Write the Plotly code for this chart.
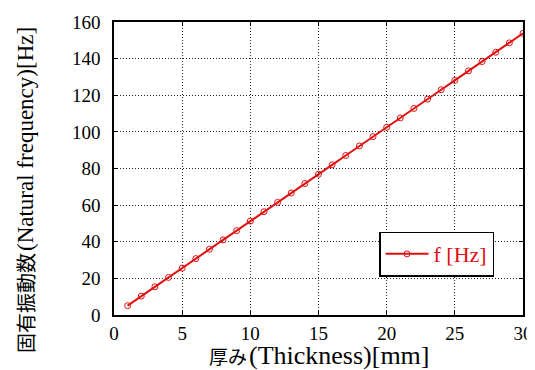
import plotly.graph_objects as go

thickness_mm = [1, 2, 3, 4, 5, 6, 7, 8, 9, 10, 11, 12, 13, 14, 15,
                16, 17, 18, 19, 20, 21, 22, 23, 24, 25, 26, 27, 28, 29, 30]
freq_hz = [5.1, 10.3, 15.4, 20.5, 25.6, 30.8, 35.9, 41.0, 46.1, 51.3,
           56.4, 61.5, 66.6, 71.8, 76.9, 82.0, 87.1, 92.3, 97.4, 102.5,
           107.6, 112.8, 117.9, 123.0, 128.1, 133.3, 138.4, 143.5, 148.6, 153.8]
x_ticks = [0, 5, 10, 15, 20, 25, 30]
y_ticks = [0, 20, 40, 60, 80, 100, 120, 140, 160]
x_title_jp, x_title_en = "厚み", "(Thickness)[mm]"
y_title_jp, y_title_en = "固有振動数", "(Natural frequency)[Hz]"

FONT = "Liberation Serif"
CJK = "Noto Sans CJK JP"
RED = "#e01010"

fig = go.Figure()
fig.add_trace(go.Scatter(
    x=thickness_mm, y=freq_hz, mode="lines+markers", name="f [Hz]",
    line=dict(color=RED, width=2),
    marker=dict(symbol="circle-open", size=6, color=RED, line=dict(width=1, color=RED)),
))

axis_common = dict(
    showline=True, linecolor="black", linewidth=1.5, mirror="ticks",
    ticks="inside", ticklen=4, tickcolor="black",
    showgrid=True, gridcolor="#222222", griddash="1px,2px", gridwidth=1,
    zeroline=False, automargin=False,
    tickfont=dict(family=FONT, size=19, color="black"),
)

fig.update_layout(
    width=527, height=362,
    margin=dict(l=106, r=12, t=14, b=55),
    paper_bgcolor="white", plot_bgcolor="white",
    font=dict(family=FONT),
    showlegend=True,
    legend=dict(
        x=0.648, y=0.208, xanchor="left", yanchor="middle",
        bordercolor="black", borderwidth=1.5, bgcolor="white",
        itemwidth=43,
        font=dict(family=FONT, size=22, color=RED),
    ),
    xaxis=dict(range=[0, 30], tickvals=x_ticks, ticklabelstandoff=0, **axis_common),
    yaxis=dict(range=[0, 160], tickvals=y_ticks, ticklabelstandoff=8, **axis_common),
)

# x-axis title: Japanese part and Latin part as two adjoining texts
fig.add_annotation(
    text=x_title_jp, xref="paper", yref="paper", x=0.327, y=0,
    xanchor="right", yanchor="middle", yshift=-40, borderpad=0, showarrow=False,
    font=dict(family=CJK, size=19, color="black"),
)
fig.add_annotation(
    text=x_title_en, xref="paper", yref="paper", x=0.327, y=0,
    xanchor="left", yanchor="middle", yshift=-40, borderpad=0, showarrow=False,
    font=dict(family=FONT, size=26, color="black"),
)

# y-axis title: rotated, Japanese part below, Latin part above
fig.add_annotation(
    text=y_title_jp, xref="paper", yref="paper", x=0, y=0.215,
    xanchor="center", yanchor="top", xshift=-89, textangle=-90, borderpad=0, showarrow=False,
    font=dict(family=CJK, size=20, color="black"),
)
fig.add_annotation(
    text=y_title_en, xref="paper", yref="paper", x=0, y=0.215,
    xanchor="center", yanchor="bottom", xshift=-89, textangle=-90, borderpad=0, showarrow=False,
    font=dict(family=FONT, size=23, color="black"),
)

fig.write_html("out.html")
